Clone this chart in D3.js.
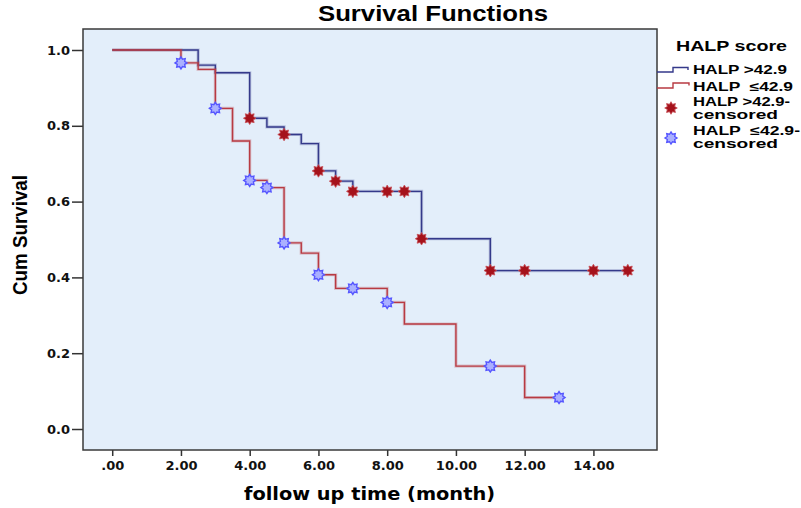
<!DOCTYPE html>
<html>
<head>
<meta charset="utf-8">
<script src="https://cdn.jsdelivr.net/npm/d3@7"></script>
<style>
  body { margin: 0; background: #fff; }
  text { font-family: "Liberation Sans", Arial, sans-serif; }
</style>
</head>
<body>
<svg id="chart" width="801" height="508"></svg>
<script>
// Kaplan-Meier steps
const highTimes = [0, 2.5, 3.0, 4.0, 4.5, 5.0, 5.5, 6.0, 6.5, 7.0, 9.0, 11.0, 15.0];
const highSurv  = [1.0, 0.960, 0.940, 0.820, 0.797, 0.777, 0.753, 0.681, 0.654, 0.627, 0.502, 0.418, 0.418];
const highCensTimes = [4.0, 5.0, 6.0, 6.5, 7.0, 8.0, 8.5, 9.0, 11.0, 12.0, 14.0, 15.0];
const highCensSurv  = [0.820, 0.777, 0.681, 0.654, 0.627, 0.627, 0.627, 0.502, 0.418, 0.418, 0.418, 0.418];

const lowTimes = [0, 2.0, 2.5, 3.0, 3.5, 4.0, 4.5, 5.0, 5.5, 6.0, 6.5, 8.0, 8.5, 10.0, 12.0, 13.0];
const lowSurv  = [1.0, 0.966, 0.949, 0.846, 0.760, 0.656, 0.637, 0.491, 0.464, 0.407, 0.371, 0.334, 0.277, 0.166, 0.083, 0.083];
const lowCensTimes = [2.0, 3.0, 4.0, 4.5, 5.0, 6.0, 7.0, 8.0, 11.0, 13.0];
const lowCensSurv  = [0.966, 0.846, 0.656, 0.637, 0.491, 0.407, 0.371, 0.334, 0.166, 0.083];

const xTicks = [0, 2, 4, 6, 8, 10, 12, 14];
const xTickLabels = [".00", "2.00", "4.00", "6.00", "8.00", "10.00", "12.00", "14.00"];
const yTicks = [0, 0.2, 0.4, 0.6, 0.8, 1.0];

const legendTitle = "HALP score";
const legendLabels = ["HALP >42.9", "HALP  \u226442.9", "HALP >42.9-", "censored", "HALP  \u226442.9-", "censored"];

const svg = d3.select("#chart");
const plot = { left: 83, right: 657, top: 29, bottom: 450 };

const x = d3.scaleLinear().domain([-0.85, 15.85]).range([plot.left, plot.right]);
const y = d3.scaleLinear().domain([-0.0554, 1.0554]).range([plot.bottom, plot.top]);

// plot background
svg.append("rect")
    .attr("x", plot.left).attr("y", plot.top)
    .attr("width", plot.right - plot.left).attr("height", plot.bottom - plot.top)
    .attr("fill", "#e3eefa");

// axes
const xAxis = svg.append("g")
    .attr("transform", `translate(0,${plot.bottom})`)
    .call(d3.axisBottom(x).tickValues(xTicks).tickFormat((d, i) => xTickLabels[i]).tickSize(6).tickPadding(5));
const yAxis = svg.append("g")
    .attr("transform", `translate(${plot.left},0)`)
    .call(d3.axisLeft(y).tickValues(yTicks).tickFormat(d3.format(".1f")).tickSize(11).tickPadding(2));
[xAxis, yAxis].forEach(a => {
    a.select(".domain").remove();
    a.selectAll(".tick line").attr("stroke", "#333").attr("stroke-width", 1.5);
    a.selectAll(".tick text")
        .attr("fill", "#111")
        .style("font-family", "'DejaVu Sans', Verdana, sans-serif")
        .style("font-weight", "bold")
        .style("font-size", "13px");
});

// frame
svg.append("rect")
    .attr("x", plot.left).attr("y", plot.top)
    .attr("width", plot.right - plot.left).attr("height", plot.bottom - plot.top)
    .attr("fill", "none").attr("stroke", "#3a3a3a").attr("stroke-width", 1.5);

// step curves
const step = d3.line().x(d => x(d[0])).y(d => y(d[1])).curve(d3.curveStepAfter);
function drawCurve(times, surv, color) {
    const pts = times.map((t, i) => [t, surv[i]]);
    svg.append("path").attr("d", step(pts)).attr("fill", "none")
        .attr("stroke", color).attr("stroke-width", 3.2).attr("opacity", 0.25);
    svg.append("path").attr("d", step(pts)).attr("fill", "none")
        .attr("stroke", color).attr("stroke-width", 1.4);
}
const blueLine = "#34398a";
const redLine = "#b83a42";
drawCurve(highTimes, highSurv, blueLine);
drawCurve(lowTimes, lowSurv, redLine);

// censor markers: 8-point stars
function starPath(ro, ri, n) {
    const p = d3.path();
    for (let i = 0; i < 2 * n; i++) {
        const a = i * Math.PI / n - Math.PI / 2;
        const r = i % 2 ? ri : ro;
        if (i === 0) p.moveTo(r * Math.cos(a), r * Math.sin(a));
        else p.lineTo(r * Math.cos(a), r * Math.sin(a));
    }
    p.closePath();
    return p.toString();
}
function redStar(sel) {
    sel.attr("d", starPath(6.3, 4, 8)).attr("fill", "#a5121b").attr("stroke", "#c85058").attr("stroke-width", 0.8);
}
function blueStar(sel) {
    sel.attr("d", starPath(6, 4, 8)).attr("fill", "#aab0ff").attr("stroke", "#5656ff").attr("stroke-width", 1.4);
}
svg.append("g").selectAll("path")
    .data(highCensTimes.map((t, i) => [t, highCensSurv[i]]))
    .join("path")
    .attr("transform", d => `translate(${x(d[0])},${y(d[1])})`)
    .call(redStar);
svg.append("g").selectAll("path")
    .data(lowCensTimes.map((t, i) => [t, lowCensSurv[i]]))
    .join("path")
    .attr("transform", d => `translate(${x(d[0])},${y(d[1])})`)
    .call(blueStar);

// titles
svg.append("text")
    .attr("x", 433).attr("y", 21)
    .attr("text-anchor", "middle")
    .attr("textLength", 230).attr("lengthAdjust", "spacingAndGlyphs")
    .style("font-size", "22px").style("font-weight", "bold")
    .text("Survival Functions");

svg.append("text")
    .attr("x", 369.5).attr("y", 500)
    .attr("text-anchor", "middle")
    .attr("textLength", 251).attr("lengthAdjust", "spacingAndGlyphs")
    .style("font-family", "'DejaVu Sans', Verdana, sans-serif")
    .style("font-size", "17px").style("font-weight", "bold")
    .text("follow up time (month)");

svg.append("text")
    .attr("transform", "translate(27,235) rotate(-90)")
    .attr("text-anchor", "middle")
    .attr("textLength", 120).attr("lengthAdjust", "spacingAndGlyphs")
    .style("font-family", "'Liberation Sans Narrow', 'Arial Narrow', 'Liberation Sans', sans-serif")
    .style("font-size", "20px").style("font-weight", "bold")
    .text("Cum Survival");

// legend
const legend = svg.append("g");
legend.append("text")
    .attr("x", 676).attr("y", 51)
    .attr("textLength", 111).attr("lengthAdjust", "spacingAndGlyphs")
    .style("font-size", "15px").style("font-weight", "bold")
    .text(legendTitle);

const legendY = [74, 91, 106, 118.5, 135, 148];
const legendW = [94, 100, 97, 85, 107, 85];
legend.selectAll("text.item")
    .data(legendLabels)
    .join("text")
    .attr("class", "item")
    .attr("x", 693).attr("y", (d, i) => legendY[i])
    .attr("textLength", (d, i) => legendW[i]).attr("lengthAdjust", "spacingAndGlyphs")
    .style("font-size", "12.5px").style("font-weight", "bold")
    .style("white-space", "pre")
    .text(d => d);

legend.append("path")
    .attr("d", "M657,72 H673 V67.5 H688 V70")
    .attr("fill", "none").attr("stroke", blueLine).attr("stroke-width", 1.4);
legend.append("path")
    .attr("d", "M657,88 H673 V83 H689 V85.5")
    .attr("fill", "none").attr("stroke", redLine).attr("stroke-width", 1.4);
legend.append("path").attr("transform", "translate(671,108)").call(redStar);
legend.append("path").attr("transform", "translate(671,138)").call(blueStar);
</script>
</body>
</html>
